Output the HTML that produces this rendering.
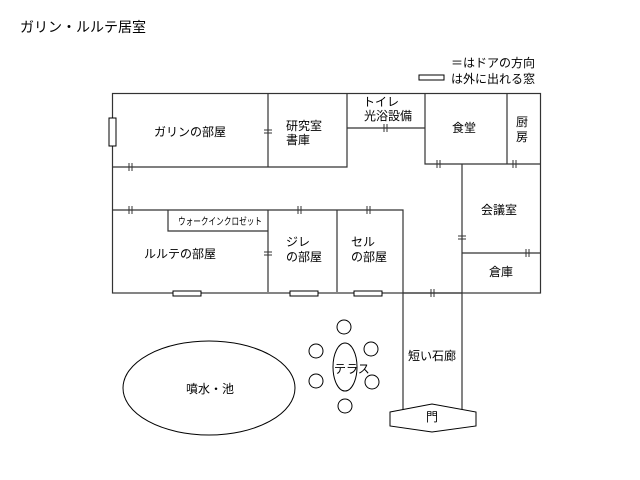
<!DOCTYPE html>
<html><head><meta charset="utf-8"><style>
html,body{margin:0;padding:0;background:#fff;}
svg{display:block}
text{font-family:"Liberation Sans","Noto Sans CJK JP",sans-serif;font-size:12px;fill:#000}
</style></head><body>
<svg width="640" height="480" viewBox="0 0 640 480" xmlns="http://www.w3.org/2000/svg">
<text x="20" y="32" style="font-size:14px">ガリン・ルルテ居室</text>
<text x="451" y="67">＝はドアの方向</text>
<rect x="419" y="75" width="25" height="5" fill="#fff" stroke="#000"/>
<text x="451" y="83">は外に出れる窓</text>
<g stroke="#333" stroke-width="1.2" fill="none">
<rect x="112.5" y="93.5" width="428" height="199.5"/>
<path d="M112 167H347V93M268 93V167M347 128H425M425 93V164H540M507 93V164M462 164V300M462 253H540M112 210H403V410M168 210V231H268M268 210V292M337 210V292M403 293H462V410"/>
</g>
<g fill="#fff" stroke="#000">
<rect x="109" y="118" width="7" height="28"/>
<rect x="173" y="291" width="28" height="5"/>
<rect x="290" y="291" width="28" height="5"/>
<rect x="354" y="291" width="28" height="5"/>
</g>
<g stroke="#333" stroke-width="1">
<path d="M129 163v8M132 163v8M129 206v8M132 206v8M298 206v8M301 206v8M367 206v8M370 206v8M384 124v8M387 124v8M437 160v8M440 160v8M513 160v8M516 160v8M526 249v8M529 249v8M431 289v8M434 289v8"/>
<path d="M264 130h8M264 133h8M264 252h8M264 255h8M458 236h8M458 239h8"/>
</g>
<g fill="none" stroke="#000">
<ellipse cx="209" cy="388" rx="86" ry="47"/>
<ellipse cx="345" cy="367" rx="12" ry="24"/>
<circle cx="344" cy="327" r="7"/><circle cx="316" cy="351" r="7"/><circle cx="371" cy="349" r="7"/>
<circle cx="316" cy="381" r="7"/><circle cx="372" cy="382" r="7"/><circle cx="345" cy="406" r="7"/>
<polygon points="390,412 432,404 476,412 476,426 432,432 390,426" fill="#fff"/>
</g>
<text x="154" y="136">ガリンの部屋</text>
<text x="286" y="130">研究室</text><text x="286" y="144">書庫</text>
<text x="363" y="106">トイレ</text><text x="364" y="120">光浴設備</text>
<text x="452" y="132">食堂</text>
<text x="516" y="126">厨</text><text x="516" y="141">房</text>
<text x="481" y="214">会議室</text>
<text x="178" y="225" style="font-size:10px" textLength="84" lengthAdjust="spacingAndGlyphs">ウォークインクロゼット</text>
<text x="144" y="258">ルルテの部屋</text>
<text x="286" y="246">ジレ</text><text x="286" y="261">の部屋</text>
<text x="351" y="246">セル</text><text x="351" y="261">の部屋</text>
<text x="489" y="276">倉庫</text>
<text x="408" y="360">短い石廊</text>
<text x="186" y="393">噴水・池</text>
<text x="334" y="373">テラス</text>
<text x="426" y="421">門</text>
</svg>
</body></html>
